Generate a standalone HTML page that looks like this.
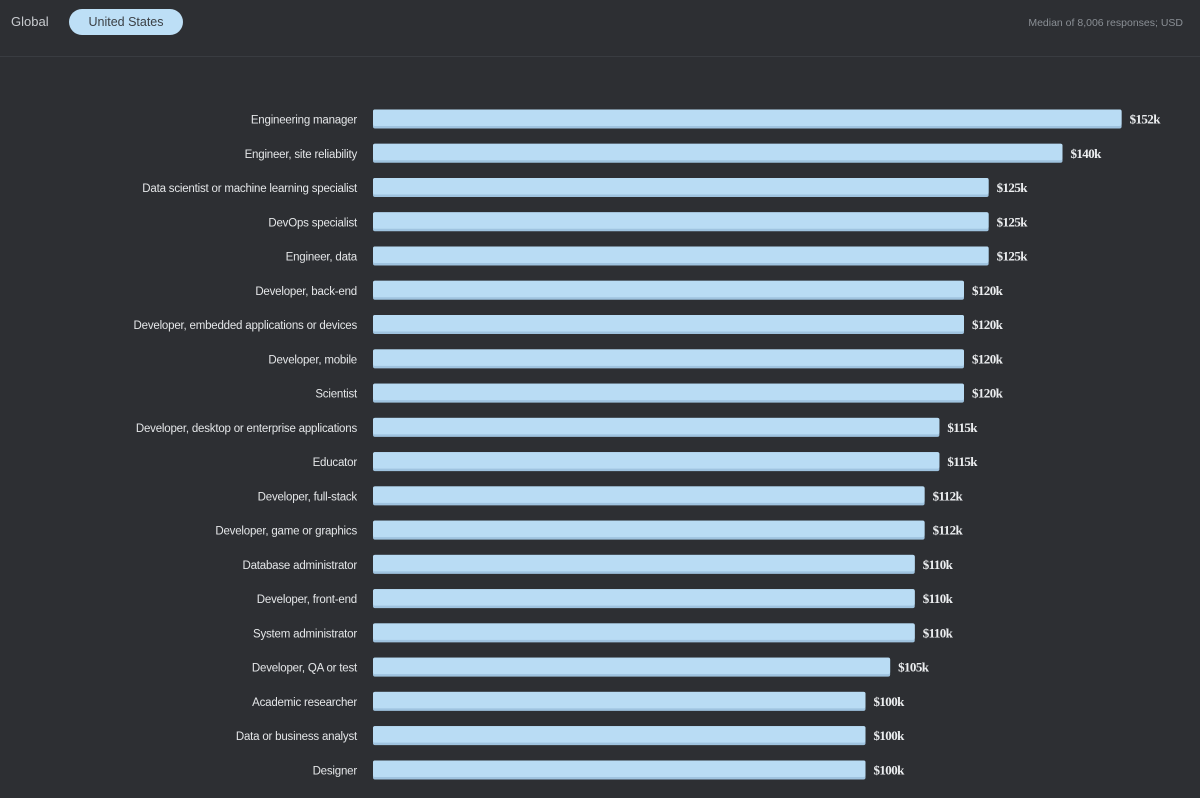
<!DOCTYPE html>
<html><head><meta charset="utf-8"><style>
body{margin:0;background:#2d2f33;width:1200px;height:798px;overflow:hidden;font-family:"Liberation Sans",sans-serif}
svg{display:block}
</style></head><body>
<svg width="1200" height="798">
<rect x="0" y="0" width="1200" height="798" fill="#2d2f33"/>
<text x="11" y="26" fill="#c8cbcf" font-size="13">Global</text>
<rect x="69" y="9" width="114" height="26" rx="13" fill="#bddff6"/>
<text x="126" y="26" fill="#3b4045" font-size="12.5" text-anchor="middle">United States</text>
<text x="1183" y="26" fill="#8a8f95" font-size="10.5" text-anchor="end">Median of 8,006 responses; USD</text>
<line x1="0" y1="56.5" x2="1200" y2="56.5" stroke="#393c41"/>
<g id="bars"></g>
</svg>
<script>
const categories=["Engineering manager","Engineer, site reliability","Data scientist or machine learning specialist","DevOps specialist","Engineer, data","Developer, back-end","Developer, embedded applications or devices","Developer, mobile","Scientist","Developer, desktop or enterprise applications","Educator","Developer, full-stack","Developer, game or graphics","Database administrator","Developer, front-end","System administrator","Developer, QA or test","Academic researcher","Data or business analyst","Designer"];
const values=[152,140,125,125,125,120,120,120,120,115,115,112,112,110,110,110,105,100,100,100];
const valueLabels=["$152k","$140k","$125k","$125k","$125k","$120k","$120k","$120k","$120k","$115k","$115k","$112k","$112k","$110k","$110k","$110k","$105k","$100k","$100k","$100k"];
const x0=373, pxPerK=4.925, y0=119, step=34.26, bh=19;
const xs=v=>x0+v*pxPerK;
const ys=i=>y0+i*step;
const g=document.getElementById('bars');
const NS="http://www.w3.org/2000/svg";
categories.forEach((c,i)=>{
  const cy=ys(i);
  const t=document.createElementNS(NS,'text');
  
  
  t.setAttribute('x',357);t.setAttribute('y',cy+4.5);t.setAttribute('text-anchor','end');
  t.setAttribute('fill','#e4e6e8');t.setAttribute('font-size','11.5');t.setAttribute('letter-spacing','-0.2');
  t.textContent=c;g.appendChild(t);
  const w=xs(values[i])-x0;
  const r=document.createElementNS(NS,'rect');
  
  
  r.setAttribute('x',x0);r.setAttribute('y',cy-9.5);r.setAttribute('width',w);r.setAttribute('height',bh);
  r.setAttribute('rx',2);r.setAttribute('fill','#9fc3df');g.appendChild(r);
  const r2=document.createElementNS(NS,'rect');
  
  
  r2.setAttribute('x',x0);r2.setAttribute('y',cy-9.5);r2.setAttribute('width',w);r2.setAttribute('height',bh-2.5);
  r2.setAttribute('rx',2);r2.setAttribute('fill','#b9dcf4');g.appendChild(r2);
  const v=document.createElementNS(NS,'text');
  
  
  v.setAttribute('x',xs(values[i])+8);v.setAttribute('y',cy+4.5);
  v.setAttribute('fill','#eceef0');v.setAttribute('font-size','13');v.setAttribute('font-weight','bold');
  v.setAttribute('font-family','"Liberation Serif",serif');v.setAttribute('letter-spacing','-0.6');
  v.textContent=valueLabels[i];g.appendChild(v);
});
</script>
</body></html>
